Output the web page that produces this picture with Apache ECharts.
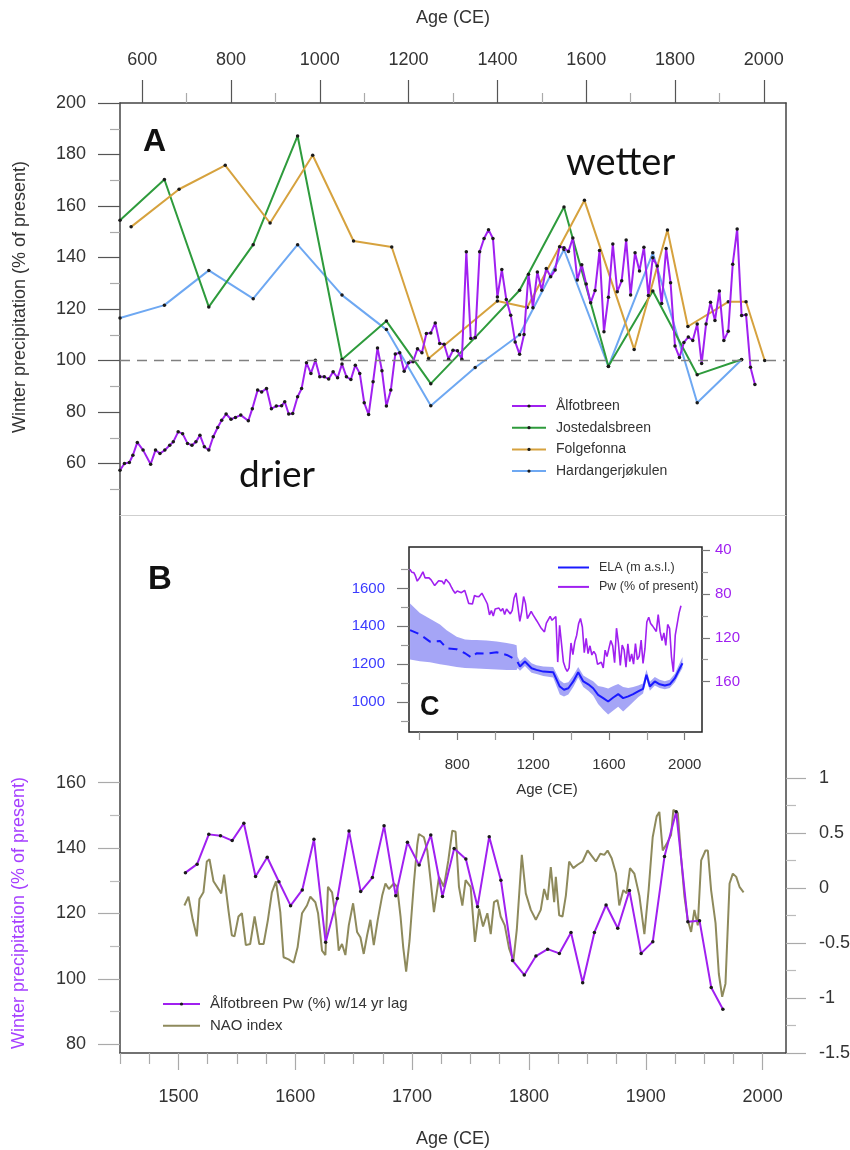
<!DOCTYPE html>
<html>
<head>
<meta charset="utf-8">
<script src="https://cdn.jsdelivr.net/npm/echarts@6/dist/echarts.min.js"></script>
<style>
  html, body { margin: 0; padding: 0; background: #fff; }
  #chart { width: 850px; height: 1150px; }
</style>
</head>
<body>
<div id="chart"></div>
<script>
// ---------- Panel A: winter precipitation reconstructions (% of present) ----------
const alfYears = [550,560,571,579,589,602,619,630,640,651,662,670,681,691,702,712,721,730,740,750,
  760,770,779,789,800,810,822,839,848,860,869,880,891,902,914,921,930,939,950,959,970,980,
  990,1000,1010,1020,1030,1040,1050,1060,1070,1080,1090,1100,1110,1120,1130,1140,1150,1160,1170,1180,
  1190,1200,1210,1220,1230,1240,1250,1260,1270,1280,1290,1300,1310,1320,1330,1340,1350,1360,1370,1380,
  1390,1400,1410,1420,1430,1440,1450,1460,1470,1480,1490,1500,1510,
  1520,1530,1540,1550,1560,1570,1580,1590,1600,1610,1620,1630,1640,1650,1660,1670,1680,1690,1700,1710,
  1720,1730,1740,1750,1760,1770,1780,1790,1800,1810,1820,1830,1840,1850,1860,1870,1880,1890,1900,1910,
  1920,1930,1940,1950,1960,1970,1980];
const alfValues = [57.4,60.0,60.4,63.2,68.2,65.2,59.7,65.2,63.9,65.2,67.1,68.4,72.3,71.6,67.8,67.1,68.4,71.0,66.5,65.2,
  70.4,74.0,76.8,79.2,77.2,77.9,78.8,76.6,81.3,88.5,87.8,89.1,81.3,82.3,82.4,84.0,79.2,79.4,85.9,89.1,99.1,95.0,
  100.1,93.7,93.7,92.8,95.6,93.3,98.6,93.7,92.6,98.2,95.0,83.6,79.0,91.7,104.9,96.0,82.3,88.5,102.5,103.0,
  95.8,99.1,99.5,104.6,103.0,110.5,110.7,114.6,106.6,106.3,100.5,104.0,103.8,100.5,142.2,108.5,108.8,142.2,147.4,150.8,
  147.4,124.7,135.3,123.7,117.6,107.2,102.4,110.1,133.5,120.5,134.4,127.3,135.7,
  132.5,135.1,144.2,143.8,142.3,147.6,131.3,137.2,129.7,122.4,127.2,142.7,111.2,124.6,145.2,126.7,131.0,146.8,125.4,141.8,
  134.8,144.0,125.2,139.9,136.7,122.1,143.5,130.2,105.6,101.2,107.0,109.1,107.8,114.2,98.8,114.2,122.6,115.5,127.0,107.8,
  111.4,137.4,151.1,117.5,117.8,97.4,90.7];

const jostYears  = [550,650,750,850,950,1050,1150,1250,1350,1450,1550,1650,1750,1850,1950];
const jostValues = [154.5,170.3,120.8,145.0,187.2,100.4,115.3,91.0,109.0,127.3,159.6,97.8,127.0,94.5,100.4];

const folgYears  = [575,683,787,888,984,1076,1162,1245,1400,1467,1596,1708,1783,1829,1920,1960,2002];
const folgValues = [151.9,166.5,175.8,153.4,179.7,146.4,144.1,100.8,123.1,120.6,162.2,104.3,150.7,113.2,122.8,122.8,100.0];

const hardYears  = [550,650,750,850,950,1050,1150,1250,1350,1450,1550,1650,1750,1850,1950];
const hardValues = [116.5,121.5,135.0,124.0,145.0,125.4,112.0,82.4,97.3,110.0,143.1,97.7,141.8,83.6,100.3];

// ---------- Panel B: lagged Ålfotbreen Pw and the NAO index ----------
const pwLagYears = [1506,1516,1526,1536,1546,1556,1566,1576,1586,1596,1606,1616,1626,1636,1646,1656,1666,1676,1686,1696,
  1706,1716,1726,1736,1746,1756,1766,1776,1786,1796,1806,1816,1826,1836,1846,1856,1866,1876,1886,1896,
  1906,1916,1926,1936,1946,1956,1966];
const pwLagValues = [132.5,135.1,144.2,143.8,142.3,147.6,131.3,137.2,129.7,122.4,127.2,142.7,111.2,124.6,145.2,126.7,131.0,146.8,125.4,141.8,
  134.8,144.0,125.2,139.9,136.7,122.1,143.5,130.2,105.6,101.2,107.0,109.1,107.8,114.2,98.8,114.2,122.6,115.5,127.0,107.8,
  111.4,137.4,151.1,117.5,117.8,97.4,90.7];

const naoYears = [1505.1,1508.6,1512.3,1515.7,1518.0,1521.4,1524.3,1526.6,1530.0,1534.9,1536.6,1539.1,1542.9,1545.7,1548.0,
  1551.4,1554.3,1557.7,1561.4,1565.2,1569.2,1572.9,1576.6,1580.0,1583.5,1587.2,1590.0,1594.3,1598.6,1602.0,
  1605.8,1610.0,1612.9,1617.2,1619.5,1622.9,1625.8,1628.0,1631.5,1634.9,1637.2,1640.0,1642.9,1645.8,1649.5,
  1652.9,1655.8,1658.6,1661.5,1664.3,1667.2,1670.6,1674.4,1677.2,1680.1,1684.4,1687.2,1690.1,1692.4,1694.9,
  1697.8,1701.5,1704.4,1705.8,1710.1,1713.0,1715.8,1718.7,1723.0,1727.2,1731.0,1734.4,1737.2,1740.1,1743.0,
  1745.8,1750.1,1753.8,1757.3,1760.7,1764.4,1767.3,1770.1,1773.0,1775.8,1779.3,1783.0,1786.7,1789.6,1793.9,
  1797.3,1801.6,1805.9,1810.1,1813.0,1815.9,1818.7,1821.6,1823.0,1825.9,1828.7,1831.6,1834.4,1837.9,1841.6,
  1845.9,1850.2,1854.5,1857.3,1861.1,1864.5,1867.3,1870.8,1874.5,1877.3,1880.8,1883.6,1886.5,1890.2,1894.5,
  1898.8,1902.5,1905.9,1909.3,1911.6,1914.5,1917.9,1921.6,1923.6,1927.4,1930.2,1933.1,1935.9,1938.8,1941.6,
  1944.5,1947.4,1951.1,1953.1,1955.9,1959.7,1962.5,1965.4,1968.2,1971.7,1974.5,1977.4,1980.2,1983.7];
const naoValues = [-0.16,-0.08,-0.29,-0.44,-0.10,-0.04,0.24,0.26,0.06,-0.02,-0.05,0.12,-0.21,-0.43,-0.44,
  -0.26,-0.23,-0.52,-0.51,-0.26,-0.51,-0.51,-0.29,-0.04,0.06,-0.22,-0.63,-0.65,-0.68,-0.54,
  -0.23,-0.16,-0.08,-0.13,-0.23,-0.57,-0.61,0.01,-0.04,-0.29,-0.57,-0.51,-0.61,-0.34,-0.14,
  -0.40,-0.45,-0.60,-0.43,-0.29,-0.52,-0.29,-0.07,0.04,-0.01,0.04,0.01,-0.26,-0.54,-0.76,
  -0.48,0.04,0.39,0.49,0.46,0.34,0.07,-0.22,0.10,0.01,0.25,0.52,0.51,0.01,-0.16,
  0.07,0.01,-0.49,-0.19,-0.35,-0.23,-0.42,-0.13,-0.11,-0.26,-0.34,-0.55,-0.66,-0.38,0.30,
  -0.05,-0.20,-0.29,-0.20,-0.01,-0.11,0.19,-0.13,0.10,-0.25,-0.26,-0.07,0.24,0.18,0.21,
  0.24,0.34,0.28,0.24,0.31,0.30,0.34,0.27,0.13,-0.16,-0.02,-0.05,0.18,0.13,-0.07,
  -0.42,-0.01,0.46,0.65,0.69,0.34,0.40,0.48,0.71,0.68,0.28,-0.08,-0.29,-0.40,-0.20,
  -0.34,0.25,0.34,0.34,-0.02,-0.32,-0.78,-0.99,-0.87,0.04,0.13,0.10,0.01,-0.04];

// ---------- Inset C: equilibrium-line altitude (m a.s.l.) with its uncertainty band ----------
const elaYears = [551,603,656,709,744,797,841,876,902,955,1008,1061,1096,1113,
  1118,1131,1157,1192,1218,1254,1306,1341,1363,1386,1412,1438,1465,1491,1517,1543,1570,1596,1623,1649,
  1675,1702,1728,1754,1780,1798,1816,1842,1868,1895,1921,1948,1974,1988];
const elaMid  = [1380,1358,1319,1323,1284,1279,1258,1235,1258,1256,1263,1249,1231,1240,
  1212,1188,1214,1179,1170,1161,1158,1082,1065,1073,1109,1158,1109,1094,1073,1038,1021,1003,1024,1042,
  1021,1030,1042,1056,1070,1144,1082,1109,1094,1088,1094,1126,1179,1205];
const elaLow  = [1225,1215,1210,1200,1195,1185,1180,1179,1178,1175,1172,1170,1170,1170,
  1180,1165,1190,1155,1148,1138,1130,1040,1030,1040,1080,1130,1080,1060,1035,990,960,935,955,975,
  950,975,1000,1025,1045,1120,1060,1088,1075,1068,1075,1105,1155,1180];
const elaHigh = [1520,1470,1440,1410,1380,1345,1330,1328,1328,1325,1320,1312,1305,1300,
  1240,1215,1240,1205,1195,1188,1185,1115,1100,1105,1140,1185,1140,1125,1110,1085,1080,1072,1085,1095,
  1080,1075,1080,1088,1098,1172,1108,1132,1118,1110,1118,1150,1208,1238];
const elaDashedCount = 14; // the early reconstruction is drawn dashed

// ---------- Tick values ----------
const ageTicksA   = [600,800,1000,1200,1400,1600,1800,2000];
const ageMinorA   = [700,900,1100,1300,1500,1700,1900];
const precipTicksA = [60,80,100,120,140,160,180,200];
const precipMinorA = [50,70,90,110,130,150,170,190];
const ageTicksB   = [1500,1600,1700,1800,1900,2000];
const ageMinorB   = [1450,1475,1525,1550,1575,1625,1650,1675,1725,1750,1775,1825,1850,1875,1925,1950,1975];
const precipTicksB = [80,100,120,140,160];
const precipMinorB = [90,110,130,150];
const naoTicks    = [-1.5,-1,-0.5,0,0.5,1];
const naoMinor    = [-1.25,-0.75,-0.25,0.25,0.75];
const ageTicksC   = [800,1200,1600,2000];
const ageMinorC   = [600,1000,1400,1800];
const elaTicks    = [1000,1200,1400,1600];
const elaMinor    = [900,1100,1300,1500,1700];
const pwTicksC    = [40,80,120,160];
const pwMinorC    = [60,100,140];

const FONT = '"Liberation Sans", Arial, sans-serif';
const PURPLE = '#a020f0';
const GREEN = '#2e9b3c';
const GOLD = '#d6a23e';
const SKY = '#6ea8f2';
const OLIVE = '#8e8a5c';
const BLUE = '#1a1aff';

const pairs = (xs, ys) => xs.map((x, i) => [x, ys[i]]);

function axis(o) {
  return {
    type: 'value',
    gridIndex: o.grid,
    position: o.position,
    min: o.min,
    max: o.max,
    inverse: !!o.inverse,
    splitLine: { show: false },
    axisPointer: { show: false },
    axisLine: { show: !!o.lineColor, onZero: false,
      lineStyle: { color: o.lineColor || '#000', width: o.lineWidth || 1.5 } },
    axisTick: o.ticks ? { show: true, customValues: o.ticks, length: o.tickLen,
      lineStyle: { color: o.tickColor || '#444', width: 1.2 } } : { show: false },
    axisLabel: o.labels ? { show: true, customValues: o.labels, margin: o.margin,
      color: o.labelColor || '#333', fontSize: o.fontSize || 18, fontFamily: FONT,
      formatter: v => String(v) } : { show: false }
  };
}

const AX = { min: 550, max: 2050 };
const AY = { min: 40, max: 200 };
const BX = { min: 1450, max: 2020 };
const BY = { min: 77.34, max: 241.87 };
const BN = { min: -1.5, max: 3.388 };
const CX = { min: 545.5, max: 2091 };
const CY = { min: 842, max: 1819 };
const CP = { min: 37, max: 206.1 };

const xAxes = [
  axis({ grid: 0, position: 'top', ...AX, lineColor: '#444', ticks: ageTicksA, labels: ageTicksA, tickLen: 23, tickColor: '#555', margin: 34 }),
  axis({ grid: 0, position: 'top', ...AX, ticks: ageMinorA, tickLen: 10, tickColor: '#aaa' }),
  axis({ grid: 0, position: 'bottom', ...AX, lineColor: '#cfcfcf', lineWidth: 1.2 }),
  axis({ grid: 1, position: 'bottom', ...BX, lineColor: '#444', ticks: ageTicksB, labels: ageTicksB, tickLen: 17, tickColor: '#aaa', margin: 35 }),
  axis({ grid: 1, position: 'bottom', ...BX, ticks: ageMinorB, tickLen: 11, tickColor: '#aaa' }),
  axis({ grid: 2, position: 'bottom', ...CX, ticks: ageTicksC, labels: ageTicksC, tickLen: 8, tickColor: '#777', margin: 25, fontSize: 15 }),
  axis({ grid: 2, position: 'bottom', ...CX, ticks: ageMinorC, tickLen: 8, tickColor: '#999' })
];

const yAxes = [
  axis({ grid: 0, position: 'left', ...AY, lineColor: '#444', ticks: precipTicksA, labels: precipTicksA, tickLen: 22, tickColor: '#555', margin: 34 }),
  axis({ grid: 0, position: 'left', ...AY, ticks: precipMinorA, tickLen: 10, tickColor: '#aaa' }),
  axis({ grid: 0, position: 'right', ...AY, lineColor: '#444' }),
  axis({ grid: 1, position: 'left', ...BY, lineColor: '#444', ticks: precipTicksB, labels: precipTicksB, tickLen: 22, tickColor: '#aaa', margin: 34 }),
  axis({ grid: 1, position: 'left', ...BY, ticks: precipMinorB, tickLen: 10, tickColor: '#bbb' }),
  axis({ grid: 1, position: 'right', ...BN, lineColor: '#444', ticks: naoTicks, labels: naoTicks, tickLen: 20, tickColor: '#aaa', margin: 33 }),
  axis({ grid: 1, position: 'right', ...BN, ticks: naoMinor, tickLen: 10, tickColor: '#bbb' }),
  axis({ grid: 2, position: 'left', ...CY, ticks: elaTicks, labels: elaTicks, tickLen: 12, tickColor: '#777', margin: 24, fontSize: 15, labelColor: '#3b3bff' }),
  axis({ grid: 2, position: 'left', ...CY, ticks: elaMinor, tickLen: 8, tickColor: '#999' }),
  axis({ grid: 2, position: 'right', ...CP, inverse: true, ticks: pwTicksC, labels: pwTicksC, tickLen: 8, tickColor: '#777', margin: 13, fontSize: 15, labelColor: PURPLE }),
  axis({ grid: 2, position: 'right', ...CP, inverse: true, ticks: pwMinorC, tickLen: 6, tickColor: '#999' })
];

function dotted(name, xs, ys, color, xi, yi, z) {
  return {
    type: 'line', name, xAxisIndex: xi, yAxisIndex: yi, data: pairs(xs, ys),
    symbol: 'circle', symbolSize: 3.5, showSymbol: true, silent: true, z,
    itemStyle: { color: '#1a1a1a' }, lineStyle: { color, width: 2 }
  };
}
function plain(name, xs, ys, color, xi, yi, z, width, dash) {
  return {
    type: 'line', name, xAxisIndex: xi, yAxisIndex: yi, data: pairs(xs, ys),
    symbol: 'circle', showSymbol: false, silent: true, z,
    itemStyle: { color }, lineStyle: { color, width, type: dash || 'solid' }
  };
}

const hardSeries = dotted('Hardangerjøkulen', hardYears, hardValues, SKY, 0, 0, 3);
hardSeries.markLine = {
  silent: true, symbol: ['none', 'none'], label: { show: false }, animation: false,
  lineStyle: { color: '#808080', type: [10, 7], width: 1.3 },
  data: [{ yAxis: 100 }]
};

// ELA uncertainty envelope: one polygon between the upper and lower bounds
const elaBand = {
  type: 'custom', name: 'ELA range', xAxisIndex: 5, yAxisIndex: 7, silent: true, z: 2,
  data: [[elaYears[0], elaLow[0]]],
  renderItem: (params, api) => {
    const upper = elaYears.map((x, i) => api.coord([x, elaHigh[i]]));
    const lower = elaYears.map((x, i) => api.coord([x, elaLow[i]])).reverse();
    return {
      type: 'polygon',
      shape: { points: upper.concat(lower) },
      style: { fill: 'rgba(105,105,240,0.6)' }
    };
  }
};

const series = [
  hardSeries,
  dotted('Jostedalsbreen', jostYears, jostValues, GREEN, 0, 0, 3),
  dotted('Folgefonna', folgYears, folgValues, GOLD, 0, 0, 3),
  dotted('Ålfotbreen', alfYears, alfValues, PURPLE, 0, 0, 4),

  plain('NAO index', naoYears, naoValues, OLIVE, 3, 5, 3, 2),
  dotted('Ålfotbreen Pw (%) w/14 yr lag', pwLagYears, pwLagValues, PURPLE, 3, 3, 4),

  elaBand,
  plain('ELA early', elaYears.slice(0, elaDashedCount), elaMid.slice(0, elaDashedCount), BLUE, 5, 7, 3, 2, [9, 6]),
  plain('ELA (m a.s.l.)', elaYears.slice(elaDashedCount), elaMid.slice(elaDashedCount), BLUE, 5, 7, 3, 2),
  plain('Pw (% of present)', alfYears, alfValues, PURPLE, 5, 9, 3, 1.6)
];

const legendText = (size) => ({ fontSize: size, lineHeight: size, color: '#333', fontFamily: FONT, padding: [0, 0, 0, 5] });

const option = {
  animation: false,
  backgroundColor: '#fff',
  textStyle: { fontFamily: FONT },
  grid: [
    { left: 120, top: 103, width: 666, height: 412, show: false, outerBoundsMode: 'none' },
    { left: 120, top: 515, width: 666, height: 538, show: false, outerBoundsMode: 'none' },
    { left: 409, top: 547, width: 293, height: 185, show: true, outerBoundsMode: 'none',
      backgroundColor: '#fff', borderColor: '#222', borderWidth: 1.5 }
  ],
  xAxis: xAxes,
  yAxis: yAxes,
  legend: [
    { left: 511, top: 399, orient: 'vertical', padding: 0, itemWidth: 34, itemHeight: 4, itemGap: 7.7,
      selectedMode: false, textStyle: legendText(14),
      data: ['Ålfotbreen', 'Jostedalsbreen', 'Folgefonna', 'Hardangerjøkulen'] },
    { left: 162, top: 996.5, orient: 'vertical', padding: 0, itemWidth: 37, itemHeight: 4, itemGap: 6.7,
      selectedMode: false, textStyle: legendText(15),
      data: ['Ålfotbreen Pw (%) w/14 yr lag', { name: 'NAO index', itemStyle: { opacity: 0 } }] },
    { left: 557, top: 561, orient: 'vertical', padding: 0, itemWidth: 31, itemHeight: 4, itemGap: 6.4,
      selectedMode: false, textStyle: legendText(12.5),
      data: [{ name: 'ELA (m a.s.l.)', itemStyle: { opacity: 0 } }, { name: 'Pw (% of present)', itemStyle: { opacity: 0 } }] }
  ],
  graphic: [
    { type: 'text', x: 453, y: 18.5, z: 100, style: { text: 'Age (CE)', font: '18px ' + FONT, fill: '#333', align: 'center', verticalAlign: 'middle' } },
    { type: 'text', x: 453, y: 1139, z: 100, style: { text: 'Age (CE)', font: '18px ' + FONT, fill: '#333', align: 'center', verticalAlign: 'middle' } },
    { type: 'text', x: 547, y: 790, z: 100, style: { text: 'Age (CE)', font: '15px ' + FONT, fill: '#333', align: 'center', verticalAlign: 'middle' } },
    { type: 'text', x: 20, y: 297, rotation: Math.PI / 2, z: 100, style: { text: 'Winter precipitation (% of present)', font: '18px ' + FONT, fill: '#333', align: 'center', verticalAlign: 'middle' } },
    { type: 'text', x: 19, y: 913, rotation: Math.PI / 2, z: 100, style: { text: 'Winter precipitation (% of present)', font: '18px ' + FONT, fill: '#a640ff', align: 'center', verticalAlign: 'middle' } },
    { type: 'text', x: 143, y: 142, z: 100, style: { text: 'A', font: 'bold 32px ' + FONT, fill: '#111', align: 'left', verticalAlign: 'middle' } },
    { type: 'text', x: 148, y: 580, z: 100, style: { text: 'B', font: 'bold 33px ' + FONT, fill: '#111', align: 'left', verticalAlign: 'middle' } },
    { type: 'text', x: 420, y: 708, z: 100, style: { text: 'C', font: 'bold 27px ' + FONT, fill: '#111', align: 'left', verticalAlign: 'middle' } },
    { type: 'text', x: 566, y: 163, z: 100, style: { text: 'wetter', font: '38px Lato, "Open Sans", sans-serif', fill: '#111', align: 'left', verticalAlign: 'middle' } },
    { type: 'text', x: 239, y: 475, z: 100, style: { text: 'drier', font: '37px Lato, "Open Sans", sans-serif', fill: '#111', align: 'left', verticalAlign: 'middle' } }
  ],
  series
};

const chart = echarts.init(document.getElementById('chart'), null, { renderer: 'canvas', width: 850, height: 1150 });
chart.setOption(option);
</script>
</body>
</html>
